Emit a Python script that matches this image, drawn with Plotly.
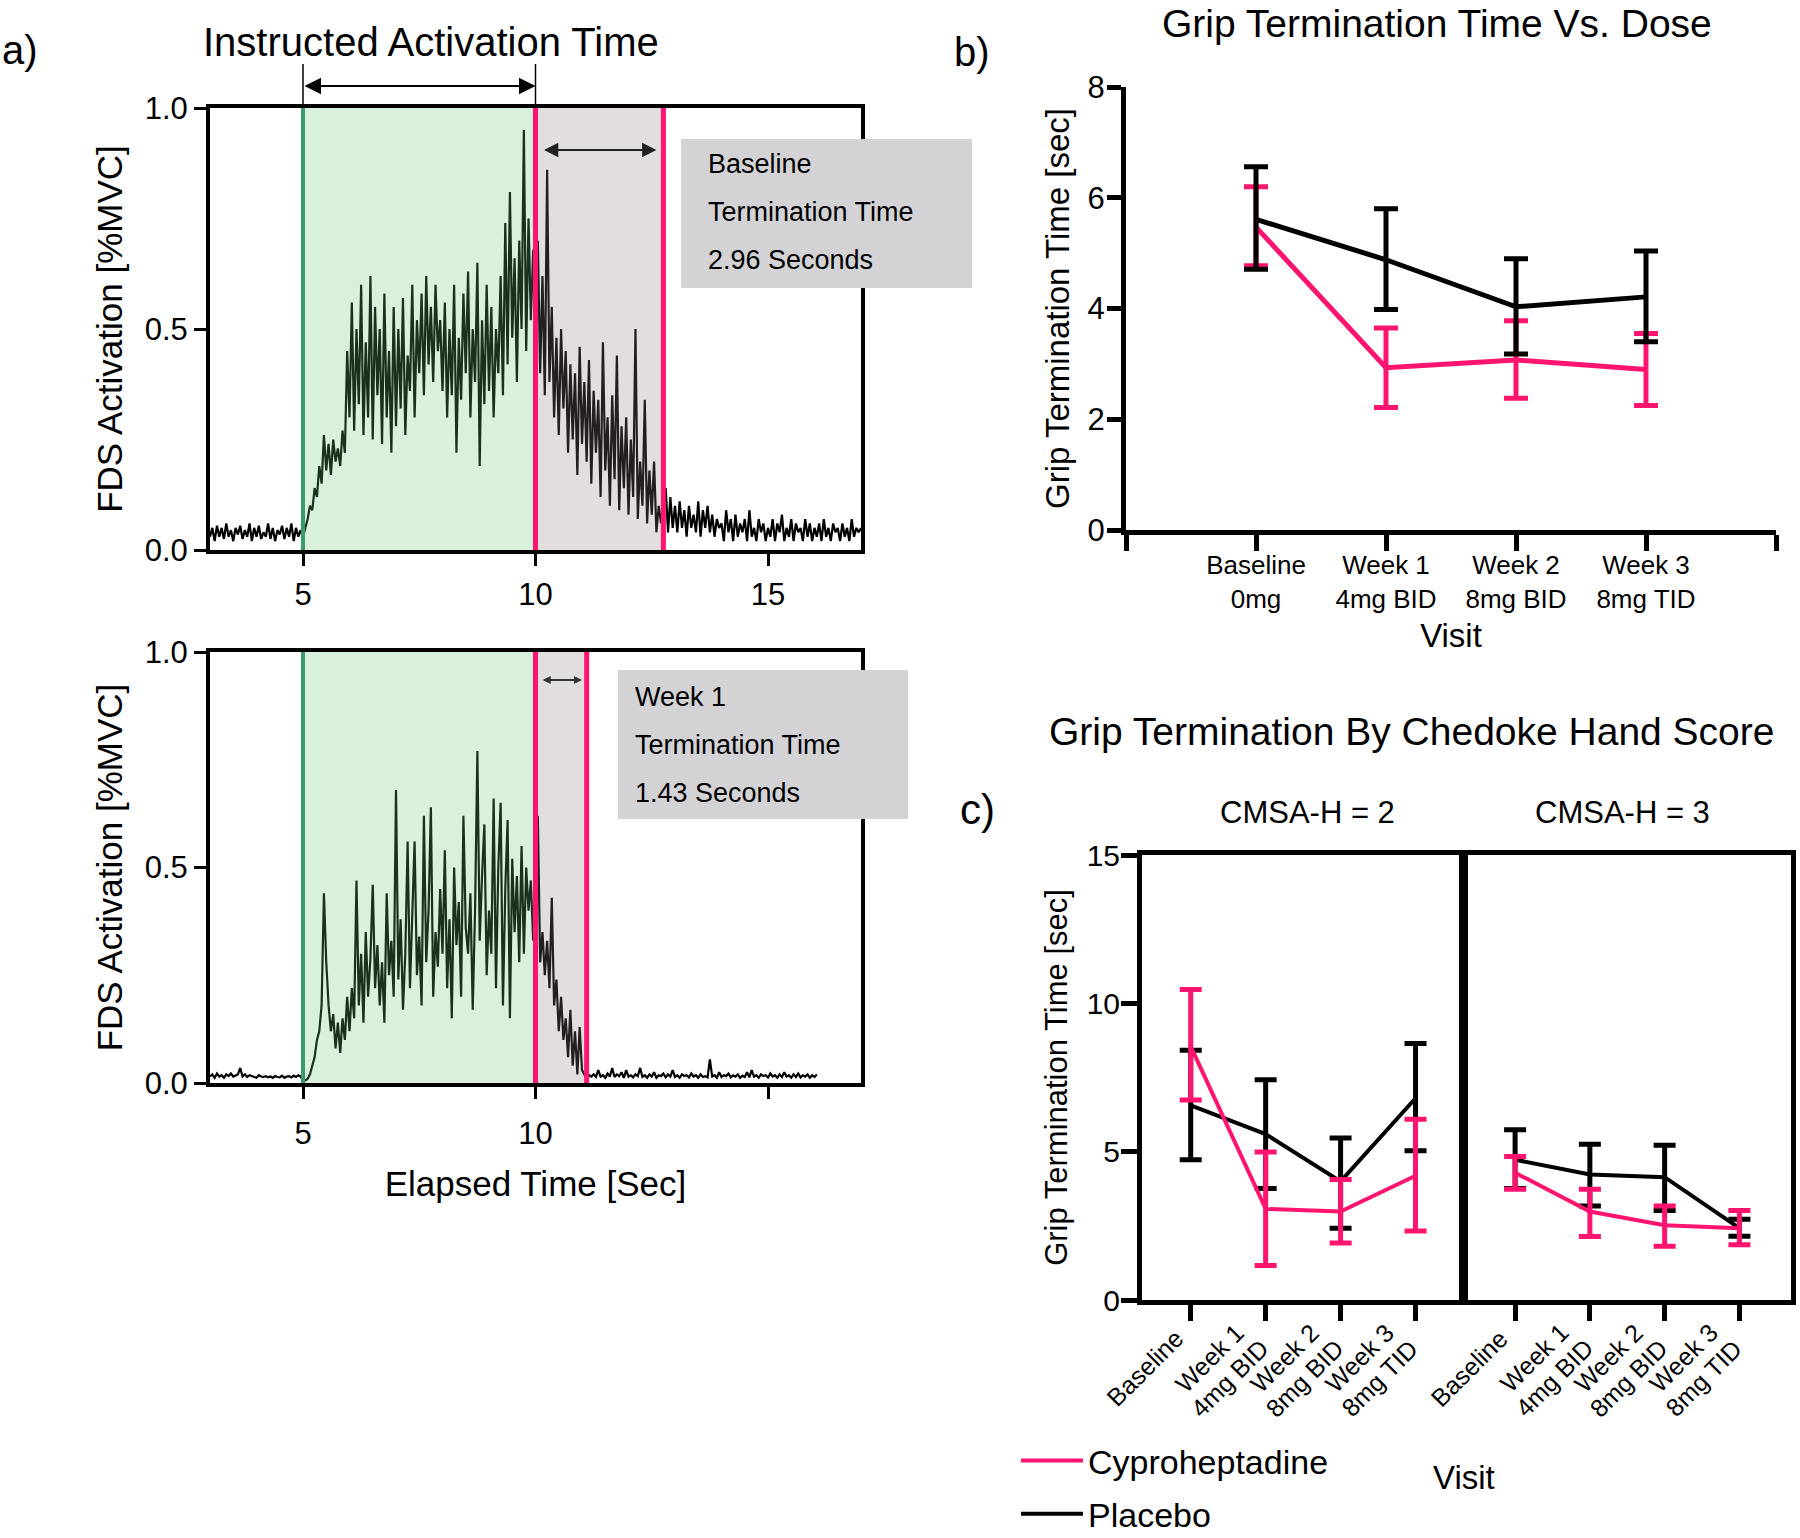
import numpy as np
import plotly.graph_objects as go

W, H = 1800, 1538
PINK = '#ff1470'
GREEN_LINE = '#3c9a6c'
FONT = 'Liberation Sans, Arial, sans-serif'

# ---------------- data ----------------
emg_t0 = 3.0
emg_dt = 0.05
onset = 5.0
instructed_end = 10.0
baseline_term_end = 12.75
week1_term_end = 11.1

baseline_emg = [
    0.03, 0.05, 0.02, 0.055, 0.03, 0.05, 0.025, 0.06, 0.03, 0.045,
    0.02, 0.05, 0.035, 0.055, 0.025, 0.045, 0.03, 0.06, 0.02, 0.05,
    0.03, 0.055, 0.025, 0.04, 0.03, 0.06, 0.025, 0.05, 0.02, 0.045,
    0.035, 0.055, 0.025, 0.05, 0.03, 0.06, 0.02, 0.05, 0.03, 0.045,
    0.03, 0.05, 0.07, 0.10, 0.09, 0.14, 0.12, 0.19, 0.15, 0.26,
    0.18, 0.24, 0.17, 0.25, 0.20, 0.23, 0.19, 0.27, 0.22, 0.45,
    0.30, 0.56, 0.27, 0.50, 0.33, 0.60, 0.26, 0.47, 0.30, 0.62,
    0.25, 0.55, 0.35, 0.50, 0.24, 0.58, 0.30, 0.45, 0.22, 0.55,
    0.28, 0.50, 0.32, 0.57, 0.26, 0.44, 0.36, 0.60, 0.30, 0.52,
    0.40, 0.58, 0.35, 0.62, 0.42, 0.55, 0.38, 0.60, 0.45, 0.52,
    0.36, 0.56, 0.30, 0.50, 0.35, 0.60, 0.22, 0.48, 0.34, 0.58,
    0.40, 0.63, 0.30, 0.50, 0.38, 0.65, 0.19, 0.52, 0.33, 0.60,
    0.36, 0.55, 0.30, 0.50, 0.40, 0.62, 0.35, 0.74, 0.42, 0.81,
    0.48, 0.66, 0.38, 0.70, 0.50, 0.95, 0.45, 0.75, 0.52, 0.68,
    0.45, 0.70, 0.40, 0.62, 0.35, 0.86, 0.38, 0.55, 0.30, 0.48,
    0.26, 0.50, 0.32, 0.45, 0.22, 0.42, 0.25, 0.40, 0.17, 0.46,
    0.24, 0.38, 0.20, 0.43, 0.15, 0.36, 0.22, 0.34, 0.12, 0.47,
    0.18, 0.30, 0.10, 0.35, 0.16, 0.44, 0.09, 0.28, 0.14, 0.30,
    0.08, 0.25, 0.12, 0.50, 0.07, 0.20, 0.10, 0.34, 0.06, 0.18,
    0.08, 0.20, 0.04, 0.10, 0.06, 0.11, 0.14, 0.04, 0.12, 0.05,
    0.10, 0.04, 0.11, 0.05, 0.09, 0.03, 0.10, 0.05, 0.08, 0.04,
    0.11, 0.03, 0.09, 0.05, 0.10, 0.04, 0.08, 0.03, 0.07, 0.05,
    0.06, 0.02, 0.09, 0.04, 0.07, 0.02, 0.08, 0.03, 0.06, 0.04,
    0.07, 0.02, 0.09, 0.03, 0.05, 0.02, 0.07, 0.04, 0.06, 0.02,
    0.05, 0.03, 0.07, 0.02, 0.06, 0.04, 0.08, 0.02, 0.05, 0.03,
    0.07, 0.02, 0.06, 0.04, 0.05, 0.02, 0.07, 0.03, 0.06, 0.02,
    0.05, 0.03, 0.06, 0.02, 0.07, 0.03, 0.05, 0.02, 0.06, 0.04,
    0.05, 0.02, 0.06, 0.03, 0.05, 0.02, 0.07, 0.03, 0.05, 0.04, 0.05,
]

week1_emg = [
    0.015, 0.02, 0.012, 0.022, 0.015, 0.018, 0.012, 0.02, 0.016, 0.022,
    0.015, 0.018, 0.02, 0.035, 0.015, 0.02, 0.014, 0.018, 0.016, 0.015,
    0.012, 0.018, 0.015, 0.014, 0.016, 0.013, 0.015, 0.012, 0.016, 0.014,
    0.013, 0.017, 0.012, 0.015, 0.016, 0.013, 0.017, 0.014, 0.018, 0.015,
    0.005, 0.006, 0.01, 0.02, 0.04, 0.06, 0.10, 0.12, 0.18, 0.44,
    0.28, 0.18, 0.12, 0.16, 0.08, 0.14, 0.07, 0.15, 0.10, 0.20,
    0.12, 0.22, 0.15, 0.47, 0.18, 0.30, 0.14, 0.35, 0.20, 0.29,
    0.46, 0.22, 0.32, 0.18, 0.28, 0.14, 0.44, 0.25, 0.33, 0.20,
    0.68, 0.24, 0.38, 0.17, 0.30, 0.56, 0.22, 0.40, 0.56, 0.25,
    0.34, 0.18, 0.62, 0.28, 0.40, 0.64, 0.20, 0.35, 0.27, 0.45,
    0.30, 0.54, 0.22, 0.38, 0.15, 0.50, 0.32, 0.42, 0.20, 0.62,
    0.36, 0.30, 0.44, 0.17, 0.40, 0.77, 0.33, 0.48, 0.60, 0.25,
    0.40, 0.30, 0.66, 0.22, 0.50, 0.65, 0.18, 0.45, 0.61, 0.15,
    0.52, 0.35, 0.48, 0.28, 0.55, 0.30, 0.50, 0.40, 0.47, 0.33,
    0.38, 0.62, 0.28, 0.35, 0.25, 0.33, 0.22, 0.43, 0.18, 0.24,
    0.12, 0.20, 0.10, 0.15, 0.06, 0.17, 0.04, 0.12, 0.02, 0.13, 0.03, 0.02,
    0.012, 0.018, 0.015, 0.02, 0.014, 0.03, 0.015, 0.018, 0.012, 0.022,
    0.015, 0.035, 0.014, 0.02, 0.016, 0.025, 0.012, 0.03, 0.015, 0.018,
    0.013, 0.02, 0.016, 0.035, 0.014, 0.018, 0.012, 0.02, 0.015, 0.025,
    0.012, 0.018, 0.016, 0.022, 0.013, 0.02, 0.015, 0.03, 0.014, 0.018,
    0.012, 0.02, 0.016, 0.018, 0.013, 0.022, 0.015, 0.018, 0.012, 0.02,
    0.014, 0.016, 0.013, 0.055, 0.015, 0.018, 0.012, 0.025, 0.014, 0.018,
    0.016, 0.022, 0.013, 0.018, 0.015, 0.02, 0.012, 0.017, 0.014, 0.025,
    0.013, 0.03, 0.015, 0.018, 0.012, 0.02, 0.016, 0.018, 0.013, 0.022,
    0.015, 0.018, 0.012, 0.02, 0.014, 0.025, 0.015, 0.018, 0.012, 0.02,
    0.014, 0.022, 0.013, 0.018, 0.015, 0.02, 0.012, 0.018, 0.014, 0.02,
]

visits_b = ["Baseline<br>0mg", "Week 1<br>4mg BID", "Week 2<br>8mg BID", "Week 3<br>8mg TID"]
b_cypro_mean = [5.47, 2.93, 3.07, 2.90]
b_cypro_hi = [6.20, 3.65, 3.78, 3.55]
b_cypro_lo = [4.77, 2.21, 2.38, 2.25]
b_placebo_mean = [5.61, 4.88, 4.03, 4.21]
b_placebo_hi = [6.56, 5.80, 4.90, 5.04]
b_placebo_lo = [4.71, 3.98, 3.18, 3.40]

visits_c = ["Baseline", "Week 1<br>4mg BID", "Week 2<br>8mg BID", "Week 3<br>8mg TID"]
c2_cypro_mean = [8.55, 3.07, 2.98, 4.19]
c2_cypro_hi = [10.47, 4.99, 4.06, 6.09]
c2_cypro_lo = [6.74, 1.16, 1.92, 2.33]
c2_placebo_mean = [6.56, 5.59, 4.00, 6.80]
c2_placebo_hi = [8.42, 7.42, 5.46, 8.65]
c2_placebo_lo = [4.73, 3.76, 2.42, 5.03]
c3_cypro_mean = [4.29, 2.98, 2.52, 2.42]
c3_cypro_hi = [4.84, 3.73, 3.17, 3.02]
c3_cypro_lo = [3.73, 2.14, 1.81, 1.86]
c3_placebo_mean = [4.73, 4.23, 4.14, 2.42]
c3_placebo_hi = [5.74, 5.25, 5.22, 2.72]
c3_placebo_lo = [3.76, 3.17, 3.02, 2.15]


def px_x(p):
    return p / W


def px_y(p):
    return 1 - p / H


fig = go.Figure()

# ---------------- panel a traces ----------------
t_base = emg_t0 + emg_dt * np.arange(len(baseline_emg))
t_wk1 = emg_t0 + emg_dt * np.arange(len(week1_emg))
fig.add_trace(go.Scatter(x=t_base, y=baseline_emg, mode='lines', line=dict(color='black', width=2.2),
                         xaxis='x', yaxis='y', showlegend=False, hoverinfo='skip'))
fig.add_trace(go.Scatter(x=t_wk1, y=week1_emg, mode='lines', line=dict(color='black', width=2.2),
                         xaxis='x2', yaxis='y2', showlegend=False, hoverinfo='skip'))


def err_trace(xs, mean, hi, lo, color, ax, ay, name=None, show=False, rank=None, width=5, cap=12, ethick=5):
    return go.Scatter(
        x=xs, y=mean, mode='lines', line=dict(color=color, width=width),
        error_y=dict(type='data', symmetric=False,
                     array=[h - m for h, m in zip(hi, mean)],
                     arrayminus=[m - l for m, l in zip(mean, lo)],
                     color=color, thickness=ethick, width=cap),
        xaxis=ax, yaxis=ay, name=name, showlegend=show,
        legendgroup=name, legendrank=rank if rank else 1000, hoverinfo='skip')


xb = list(range(len(visits_b)))
xc = list(range(len(visits_c)))

# panel b: pink under, black over
fig.add_trace(err_trace(xb, b_cypro_mean, b_cypro_hi, b_cypro_lo, PINK, 'x3', 'y3'))
fig.add_trace(err_trace(xb, b_placebo_mean, b_placebo_hi, b_placebo_lo, 'black', 'x3', 'y3'))

# panel c: black under, pink over
fig.add_trace(err_trace(xc, c2_placebo_mean, c2_placebo_hi, c2_placebo_lo, 'black', 'x4', 'y4',
                        name='Placebo', show=True, rank=2, width=4, cap=11))
fig.add_trace(err_trace(xc, c2_cypro_mean, c2_cypro_hi, c2_cypro_lo, PINK, 'x4', 'y4',
                        name='Cyproheptadine', show=True, rank=1, width=4, cap=11))
fig.add_trace(err_trace(xc, c3_placebo_mean, c3_placebo_hi, c3_placebo_lo, 'black', 'x5', 'y5',
                        width=4, cap=11))
fig.add_trace(err_trace(xc, c3_cypro_mean, c3_cypro_hi, c3_cypro_lo, PINK, 'x5', 'y5',
                        width=4, cap=11))

# ---------------- axes ----------------
tickfont = dict(family=FONT, size=31, color='black')
a_x_dom = [px_x(210), px_x(861)]
common_a = dict(showgrid=False, zeroline=False, showline=True, linecolor='black', linewidth=4,
                mirror=True, ticks='outside', ticklen=12, tickwidth=3, tickcolor='black',
                tickfont=tickfont, automargin=False)

fig.update_layout(
    xaxis=dict(domain=a_x_dom, range=[3, 17], tickvals=[5, 10, 15], ticktext=['5', '10', '15'],
               anchor='y', ticklabelstandoff=2, **common_a),
    yaxis=dict(domain=[px_y(550), px_y(108)], range=[0, 1], tickvals=[0, 0.5, 1],
               ticktext=['0.0', '0.5', '1.0'], anchor='x', ticklabelstandoff=0,
               title=dict(text='FDS Activation [%MVC]', font=dict(family=FONT, size=35, color='black'),
                          standoff=12), **common_a),
    xaxis2=dict(domain=a_x_dom, range=[3, 17], tickvals=[5, 10, 15], ticktext=['5', '10', ''],
                anchor='y2', ticklabelstandoff=8,
                title=dict(text='Elapsed Time [Sec]', font=dict(family=FONT, size=35, color='black'),
                           standoff=22), **common_a),
    yaxis2=dict(domain=[px_y(1083), px_y(652)], range=[0, 1], tickvals=[0, 0.5, 1],
                ticktext=['0.0', '0.5', '1.0'], anchor='x2', ticklabelstandoff=0,
                title=dict(text='FDS Activation [%MVC]', font=dict(family=FONT, size=35, color='black'),
                           standoff=12), **common_a),
    xaxis3=dict(domain=[px_x(1126), px_x(1776)], range=[-1, 4], tickvals=[-1, 0, 1, 2, 3, 4],
                ticktext=[''] + visits_b + [''], anchor='y3', showgrid=False, zeroline=False,
                showline=True, linecolor='black', linewidth=5, ticks='outside', ticklen=16,
                tickwidth=5, tickcolor='black', ticklabelstandoff=-8, automargin=False,
                tickfont=dict(family=FONT, size=26, color='black'),
                title=dict(text='Visit', font=dict(family=FONT, size=33, color='black'), standoff=12)),
    yaxis3=dict(domain=[px_y(530), px_y(87)], range=[0, 8], tickvals=[0, 2, 4, 6, 8], anchor='x3',
                showgrid=False, zeroline=False, showline=True, linecolor='black', linewidth=5,
                ticks='outside', ticklen=14, tickwidth=5, tickcolor='black', ticklabelstandoff=-4,
                automargin=False, tickfont=dict(family=FONT, size=31, color='black'),
                title=dict(text='Grip Termination Time [sec]', font=dict(family=FONT, size=33, color='black'),
                           standoff=9)),
)

common_c = dict(showgrid=False, zeroline=False, showline=True, linecolor='black', linewidth=5,
                mirror=True, ticklen=16, tickwidth=5, tickcolor='black', automargin=False)
fig.update_layout(
    xaxis4=dict(domain=[px_x(1142), px_x(1459)], range=[-0.65, 3.58], tickvals=xc,
                showticklabels=False, anchor='y4', ticks='outside', **common_c),
    yaxis4=dict(domain=[px_y(1300), px_y(855)], range=[0, 15], tickvals=[0, 5, 10, 15], anchor='x4',
                tickfont=dict(family=FONT, size=30, color='black'), ticklabelstandoff=-5, ticks='outside',
                title=dict(text='Grip Termination Time [sec]', font=dict(family=FONT, size=31, color='black'),
                           standoff=11), **common_c),
    xaxis5=dict(domain=[px_x(1468), px_x(1791)], range=[-0.63, 3.69], tickvals=xc,
                showticklabels=False, anchor='y5', ticks='outside', **common_c),
    yaxis5=dict(domain=[px_y(1300), px_y(855)], range=[0, 15], tickvals=[0, 5, 10, 15],
                showticklabels=False, anchor='x5', ticks='', **common_c),
)

# ---------------- shapes ----------------
shapes = []
for xr, yr, term_end in [('x', 'y', baseline_term_end), ('x2', 'y2', week1_term_end)]:
    shapes.append(dict(type='rect', xref=xr, yref=yr, x0=onset, x1=instructed_end, y0=0, y1=1,
                       fillcolor='rgb(103,195,115)', opacity=0.25, line=dict(width=0), layer='above'))
    shapes.append(dict(type='rect', xref=xr, yref=yr, x0=instructed_end, x1=term_end, y0=0, y1=1,
                       fillcolor='rgb(139,123,123)', opacity=0.25, line=dict(width=0), layer='above'))
    shapes.append(dict(type='line', xref=xr, yref=yr, x0=onset, x1=onset, y0=0, y1=1,
                       line=dict(color=GREEN_LINE, width=4), layer='above'))
    for xv in (instructed_end, term_end):
        shapes.append(dict(type='line', xref=xr, yref=yr, x0=xv, x1=xv, y0=0, y1=1,
                           line=dict(color=PINK, width=5), layer='above'))

# instructed-time guide ticks above top panel
for xv in (onset, instructed_end):
    shapes.append(dict(type='line', xref='x', yref='paper', x0=xv, x1=xv, y0=px_y(108), y1=px_y(64),
                       line=dict(color='black', width=1.5), layer='above'))

# grey text boxes
shapes.append(dict(type='rect', xref='paper', yref='paper', x0=px_x(681), x1=px_x(972),
                   y0=px_y(288), y1=px_y(139), fillcolor='#d3d3d5', line=dict(width=0), layer='above'))
shapes.append(dict(type='rect', xref='paper', yref='paper', x0=px_x(618), x1=px_x(908),
                   y0=px_y(819), y1=px_y(670), fillcolor='#d3d3d5', line=dict(width=0), layer='above'))
fig.update_layout(shapes=shapes)

# ---------------- annotations ----------------
ann = []


def txt(text, x, y, size, xanchor='center', yanchor='middle', textangle=0):
    ann.append(dict(text=text, x=px_x(x), y=px_y(y), xref='paper', yref='paper', showarrow=False,
                    xanchor=xanchor, yanchor=yanchor, textangle=textangle,
                    font=dict(family=FONT, size=size, color='black')))


txt('a)', 0, 50, 40, xanchor='left')
txt('Instructed Activation Time', 431, 42, 40)
txt('b)', 952, 52, 40, xanchor='left')
txt('Grip Termination Time Vs. Dose', 1437, 0, 39, yanchor='top')
txt('Grip Termination By Chedoke Hand Score', 1047, 731, 39, xanchor='left')
txt('c)', 958, 809, 42, xanchor='left')
txt('CMSA-H = 2', 1307, 812, 31)
txt('CMSA-H = 3', 1622, 812, 31)
txt('Visit', 1464, 1477, 33)

for i, line in enumerate(['Baseline', 'Termination Time', '2.96 Seconds']):
    txt(line, 706, 164 + 48 * i, 27, xanchor='left')
for i, line in enumerate(['Week 1', 'Termination Time', '1.43 Seconds']):
    txt(line, 633, 697 + 48 * i, 27, xanchor='left')

# rotated category labels for panel c (centre-aligned lines, tighter line spacing)
LINE_GAP = 29
DIAG = 0.7071
for xr in ('x4', 'x5'):
    for i, lab in enumerate(visits_c):
        parts = lab.split('<br>')
        n = len(parts)
        for j, part in enumerate(parts):
            k = (j - (n - 1) / 2) * LINE_GAP
            ann.append(dict(text=part, x=xc[i], xref=xr, y=px_y(1368), yref='paper',
                            xshift=-46 + k * DIAG, yshift=-k * DIAG,
                            showarrow=False, textangle=-45, xanchor='center', yanchor='middle',
                            font=dict(family=FONT, size=25, color='black')))

# double-headed arrows
ann.append(dict(x=instructed_end, y=px_y(86), xref='x', yref='paper', ax=onset, ay=0, axref='x',
                ayref='pixel', text='', showarrow=True, arrowside='end+start', arrowhead=2,
                arrowsize=1.5, arrowwidth=2.2, arrowcolor='black'))
ann.append(dict(x=12.6, y=0.905, xref='x', yref='y', ax=10.15, ay=0.905, axref='x', ayref='y',
                text='', showarrow=True, arrowside='end+start', arrowhead=2, arrowsize=1.3,
                arrowwidth=2.2, arrowcolor='#222'))
ann.append(dict(x=11.0, y=0.935, xref='x2', yref='y2', ax=10.12, ay=0.935, axref='x2', ayref='y2',
                text='', showarrow=True, arrowside='end+start', arrowhead=2, arrowsize=0.9,
                arrowwidth=1.8, arrowcolor='#333'))
fig.update_layout(annotations=ann)

fig.update_layout(
    width=W, height=H, margin=dict(l=0, r=0, t=0, b=0, autoexpand=False), autosize=False,
    paper_bgcolor='white', plot_bgcolor='white',
    font=dict(family=FONT, color='black'),
    legend=dict(x=px_x(1016), y=px_y(1432), xanchor='left', yanchor='top',
                font=dict(family=FONT, size=34, color='black'), bgcolor='rgba(0,0,0,0)',
                tracegroupgap=6, itemwidth=62),
)

fig.write_html('out.html', config={'displayModeBar': False},
               post_script="document.body.style.margin='0px';")
